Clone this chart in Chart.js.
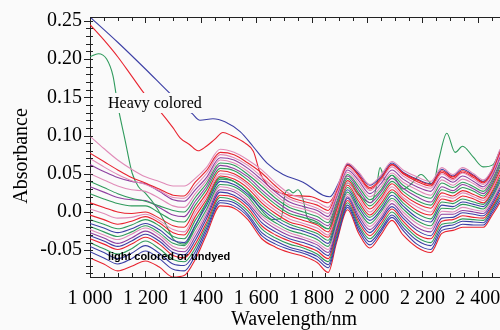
<!DOCTYPE html>
<html>
<head>
<meta charset="utf-8">
<script src="https://cdn.jsdelivr.net/npm/chart.js@4.4.1/dist/chart.umd.min.js"></script>
<style>
  html, body { margin: 0; padding: 0; background: #fafafa; }
  #wrap { width: 500px; height: 330px; }
</style>
</head>
<body>
<div id="wrap"><canvas id="c" width="500" height="330"></canvas></div>
<script>
// wavelengths (nm) shared by the bundle of spectra
const wavelengths = [1000, 1050, 1100, 1150, 1200, 1250, 1300, 1340, 1380, 1420, 1470, 1520, 1570, 1620, 1670, 1720, 1770, 1820, 1860, 1890, 1930, 1970, 2010, 2050, 2090, 2130, 2180, 2230, 2270, 2310, 2345, 2385, 2420, 2450, 2480]

// light colored / undyed samples (absorbance)
const s01 = [.099, .083, .068, .056, .046, .040, .034, .034, .044, .058, .082, .078, .068, .055, .038, .024, .018, .013, .006, .030, .064, .052, .036, .048, .066, .055, .046, .040, .058, .049, .058, .050, .042, .055, .082]
const s02 = [.077, .066, .055, .045, .038, .030, .022, .021, .039, .054, .078, .075, .064, .051, .034, .020, .014, .009, .002, .027, .061, .048, .032, .044, .062, .051, .042, .036, .054, .046, .054, .047, .039, .052, .079]
const s03 = [.070, .059, .049, .041, .036, .028, .019, .018, .034, .050, .075, .071, .061, .046, .030, .017, .011, .005, -.002, .023, .058, .044, .028, .041, .059, .047, .037, .031, .050, .042, .051, .043, .036, .049, .075]
const s04 = [.062, .053, .045, .040, .037, .027, .016, .014, .029, .045, .071, .068, .057, .042, .026, .013, .007, .002, -.006, .020, .055, .041, .024, .037, .055, .043, .033, .027, .046, .039, .047, .040, .033, .046, .072]
const s05 = [.050, .042, .034, .029, .027, .018, .008, .006, .024, .041, .068, .064, .053, .038, .022, .009, .004, -.002, -.010, .017, .052, .037, .020, .033, .051, .039, .029, .022, .042, .035, .043, .037, .030, .044, .069]
const s06 = [.040, .032, .024, .018, .014, .008, .002, .000, .019, .037, .064, .061, .049, .034, .018, .006, .000, -.006, -.014, .013, .049, .033, .016, .029, .048, .035, .024, .018, .038, .032, .039, .033, .027, .041, .065]
const s07 = [.033, .026, .019, .016, .015, .006, -.004, -.006, .014, .033, .061, .057, .046, .029, .014, .002, -.004, -.010, -.018, .010, .047, .029, .012, .026, .044, .031, .020, .013, .033, .028, .036, .030, .024, .038, .062]
const s08 = [.024, .017, .011, .008, .008, -.001, -.011, -.013, .009, .029, .057, .054, .042, .025, .010, -.002, -.007, -.013, -.022, .007, .044, .025, .008, .022, .040, .027, .015, .009, .029, .025, .032, .027, .021, .035, .059]
const s09 = [.012, .006, .000, -.002, .000, -.008, -.018, -.020, .004, .024, .054, .050, .038, .021, .006, -.005, -.011, -.017, -.026, .003, .041, .022, .004, .018, .037, .023, .011, .005, .025, .021, .028, .023, .018, .032, .055]
const s10 = [.004, -.002, -.008, -.007, -.003, -.011, -.023, -.026, -.001, .020, .050, .047, .035, .016, .002, -.009, -.015, -.021, -.030, .000, .038, .018, .000, .015, .033, .019, .007, .000, .021, .018, .025, .020, .015, .029, .052]
const s11 = [-.004, -.010, -.016, -.012, -.006, -.014, -.027, -.030, -.006, .016, .047, .043, .031, .012, -.002, -.013, -.018, -.025, -.033, -.003, .035, .014, -.004, .011, .029, .016, .002, -.004, .017, .014, .021, .017, .012, .026, .049]
const s12 = [-.010, -.016, -.022, -.017, -.010, -.018, -.032, -.035, -.011, .012, .043, .040, .027, .008, -.006, -.016, -.022, -.028, -.037, -.007, .032, .010, -.007, .007, .026, .012, -.002, -.009, .013, .011, .017, .013, .010, .024, .045]
const s13 = [-.015, -.021, -.027, -.022, -.015, -.023, -.037, -.040, -.017, .008, .040, .036, .023, .004, -.010, -.020, -.025, -.032, -.041, -.010, .029, .006, -.011, .003, .022, .008, -.007, -.013, .009, .007, .013, .010, .007, .021, .042]
const s14 = [-.019, -.026, -.032, -.026, -.018, -.027, -.041, -.044, -.022, .003, .036, .033, .020, -.002, -.014, -.024, -.029, -.036, -.045, -.013, .026, .002, -.015, .000, .018, .004, -.011, -.018, .005, .004, .010, .007, .004, .018, .039]
const s15 = [-.023, -.030, -.036, -.029, -.021, -.030, -.045, -.048, -.027, -.001, .033, .029, .016, -.005, -.018, -.027, -.033, -.040, -.049, -.017, .023, -.001, -.019, -.004, .015, .000, -.015, -.022, .001, .000, .006, .003, .001, .015, .035]
const s16 = [-.027, -.034, -.041, -.034, -.025, -.034, -.049, -.052, -.032, -.005, .029, .026, .012, -.009, -.022, -.031, -.036, -.043, -.053, -.020, .020, -.005, -.023, -.008, .011, -.004, -.020, -.026, -.003, -.003, .002, .000, -.002, .012, .032]
const s17 = [-.031, -.038, -.045, -.038, -.029, -.038, -.053, -.056, -.037, -.009, .026, .022, .009, -.014, -.026, -.035, -.040, -.047, -.057, -.023, .018, -.009, -.027, -.011, .007, -.008, -.024, -.031, -.008, -.007, -.001, -.003, -.005, .009, .029]
const s18 = [-.035, -.042, -.049, -.042, -.033, -.042, -.057, -.060, -.042, -.014, .022, .019, .005, -.018, -.030, -.038, -.044, -.051, -.061, -.027, .015, -.013, -.031, -.015, .004, -.012, -.029, -.035, -.012, -.010, -.005, -.007, -.008, .006, .025]
const s19 = [-.040, -.048, -.055, -.048, -.038, -.048, -.062, -.065, -.047, -.018, .019, .015, .001, -.022, -.034, -.042, -.047, -.055, -.065, -.030, .012, -.017, -.035, -.019, .000, -.016, -.033, -.040, -.016, -.014, -.009, -.010, -.011, .004, .022]
const s20 = [-.045, -.053, -.061, -.054, -.044, -.054, -.068, -.070, -.052, -.022, .015, .012, -.003, -.027, -.038, -.046, -.051, -.058, -.069, -.033, .009, -.020, -.039, -.023, -.004, -.020, -.037, -.044, -.020, -.017, -.012, -.013, -.014, .001, .019]
const s21 = [-.052, -.060, -.068, -.061, -.051, -.061, -.075, -.077, -.057, -.026, .012, .008, -.006, -.031, -.042, -.049, -.054, -.062, -.073, -.037, .006, -.024, -.043, -.026, -.007, -.024, -.042, -.049, -.024, -.021, -.016, -.017, -.017, -.002, .015]
const s22 = [-.060, -.068, -.077, -.071, -.064, -.072, -.085, -.083, -.062, -.030, .008, .005, -.010, -.035, -.046, -.053, -.058, -.066, -.079, -.040, .003, -.028, -.047, -.030, -.011, -.030, -.046, -.053, -.028, -.024, -.020, -.020, -.020, -.005, .012]

// heavy colored samples, each with its own wavelength points
const blueWl = [1000, 1100, 1200, 1300, 1368, 1397, 1444, 1487, 1542, 1588, 1639, 1697, 1769, 1841, 1866, 1900, 1930, 1970, 2010, 2050, 2090, 2130, 2180, 2230, 2270, 2310, 2345, 2385, 2420, 2450, 2480]
const blueHeavy = [.255, .222, .187, .151, .129, .120, .122, .118, .105, .086, .064, .049, .039, .022, .020, .040, .062, .050, .035, .046, .064, .052, .043, .037, .056, .047, .056, .048, .040, .054, .080]
const redWl = [1000, 1050, 1100, 1150, 1200, 1250, 1300, 1325, 1360, 1390, 1420, 1450, 1480, 1510, 1560, 1590, 1614, 1640, 1661, 1722, 1800, 1860, 1900, 1930, 1970, 2010, 2050, 2090, 2130, 2180, 2230, 2270, 2310, 2345, 2385, 2420, 2450, 2480]
const redHeavy = [.245, .225, .203, .178, .153, .133, .110, .097, .088, .080, .086, .095, .104, .100, .090, .079, .051, .036, .029, .022, .020, .012, .035, .063, .047, .030, .042, .062, .050, .040, .034, .052, .044, .052, .045, .038, .050, .078]
const greenWl = [1000, 1030, 1060, 1083, 1101, 1126, 1152, 1175, 1199, 1242, 1271, 1300, 1340, 1380, 1420, 1470, 1520, 1570, 1620, 1660, 1690, 1705, 1718, 1733, 1750, 1768, 1785, 1820, 1860, 1890, 1930, 1970, 2015, 2035, 2047, 2065, 2090, 2130, 2160, 2195, 2238, 2260, 2288, 2318, 2345, 2383, 2419, 2455, 2480]
const greenHeavy = [.203, .207, .200, .178, .138, .095, .051, .033, .025, .005, -.014, -.035, -.042, -.018, .012, .045, .040, .026, .002, -.010, -.008, .025, .029, .025, .029, .018, -.008, -.015, -.022, .003, .038, .022, .012, .035, .058, .042, .048, .030, .037, .049, .036, .070, .103, .078, .086, .072, .059, .062, .080]

// axis ticks
const xTicks = [1000, 1200, 1400, 1600, 1800, 2000, 2200, 2400]
const xTickLabels = ['1 000', '1 200', '1 400', '1 600', '1 800', '2 000', '2 200', '2 400']
const yTicks = [-0.05, 0, 0.05, 0.10, 0.15, 0.20, 0.25]
const yTickLabels = ['-0.05', '0.0', '0.05', '0.10', '0.15', '0.20', '0.25']

const RED = '#e8232f', BLUE = '#3c3fa5', GREEN = '#2f9a5c', PURPLE = '#8e3fa0', PINK = '#e08bb8'

const bundle = [
  [s01, PINK], [s02, RED], [s03, PINK], [s04, PURPLE], [s05, PINK], [s06, GREEN],
  [s07, PURPLE], [s08, GREEN], [s09, RED], [s10, PINK], [s11, RED], [s12, GREEN],
  [s13, BLUE], [s14, GREEN], [s15, PINK], [s16, PURPLE], [s17, BLUE], [s18, RED],
  [s19, GREEN], [s20, BLUE], [s21, BLUE], [s22, RED]
]

const line = (wl, vals, color) => ({
  data: wl.map((w, i) => ({ x: w, y: vals[i] })),
  borderColor: color,
  borderWidth: 1.1,
  pointRadius: 0,
  fill: false,
  cubicInterpolationMode: 'monotone'
})

const datasets = bundle.map(([vals, col]) => line(wavelengths, vals, col))
datasets.push(line(blueWl, blueHeavy, BLUE))
datasets.push(line(redWl, redHeavy, RED))
datasets.push(line(greenWl, greenHeavy, GREEN))

const serif = "'Liberation Serif', 'Times New Roman', serif"
const INK = '#000'

// background, top axis, minor ticks, labels
const frame = {
  id: 'frame',
  beforeDraw(chart) {
    const c = chart.ctx
    c.save()
    c.fillStyle = '#fafafa'
    c.fillRect(0, 0, chart.width, chart.height)
    c.restore()
  },
  afterDatasetsDraw(chart) {
    const { ctx, chartArea: a, scales: { x, y } } = chart
    ctx.save()
    ctx.strokeStyle = '#222'
    ctx.lineWidth = 1
    ctx.beginPath()
    ctx.moveTo(a.left, a.top + 0.5)
    ctx.lineTo(a.right, a.top + 0.5)
    ctx.stroke()

    ctx.beginPath()
    for (let v = 1000; v <= 2480; v += 50) {
      const px = Math.round(x.getPixelForValue(v)) + 0.5
      const len = v % 200 === 0 ? 6 : 4
      ctx.moveTo(px, a.bottom + 1)
      ctx.lineTo(px, a.bottom - len)
      ctx.moveTo(px, a.top)
      ctx.lineTo(px, a.top + len)
    }
    for (let i = -8; i <= 25; i++) {
      const py = Math.round(y.getPixelForValue(i / 100)) + 0.5
      const major = i % 5 === 0
      ctx.moveTo(a.left - (major ? 6 : 4), py)
      ctx.lineTo(a.left + 3, py)
    }
    ctx.stroke()

    // "Heavy colored" sits on a patch of plot background
    ctx.fillStyle = '#fafafa'
    ctx.fillRect(106, 93, 98, 20)
    ctx.fillStyle = INK
    ctx.font = '16px ' + serif
    ctx.textBaseline = 'middle'
    ctx.textAlign = 'left'
    ctx.fillText('Heavy colored', 108, 104)

    ctx.font = "bold 11px 'Liberation Sans', Arial, sans-serif"
    ctx.fillText('light colored or undyed', 108, 257)

    // axis titles
    ctx.font = '20px ' + serif
    ctx.textAlign = 'center'
    ctx.fillText('Wavelength/nm', 294, 320)
    ctx.translate(22, 156)
    ctx.rotate(-Math.PI / 2)
    ctx.fillText('Absorbance', 0, 0)
    ctx.restore()
  }
}

new Chart(document.getElementById('c'), {
  type: 'line',
  data: { datasets },
  plugins: [frame],
  options: {
    responsive: false,
    animation: false,
    devicePixelRatio: 1,
    layout: { padding: { top: 17, right: 0, left: 0, bottom: 0 } },
    plugins: { legend: { display: false }, tooltip: { enabled: false } },
    scales: {
      x: {
        type: 'linear',
        min: 1000,
        max: 2480,
        afterFit: s => { s.height = 53; s.paddingLeft = 0; s.paddingRight = 0 },
        afterBuildTicks: s => { s.ticks = xTicks.map(v => ({ value: v })) },
        ticks: {
          callback: (v, i) => xTickLabels[i],
          font: { family: serif, size: 20 },
          color: INK,
          padding: 10,
          maxRotation: 0,
          autoSkip: false
        },
        grid: { display: false, drawTicks: false },
        border: { display: true, color: '#222', width: 1 }
      },
      y: {
        min: -0.085,
        max: 0.255,
        afterFit: s => { s.width = 90; s.paddingTop = 0; s.paddingBottom = 0 },
        afterBuildTicks: s => { s.ticks = yTicks.map(v => ({ value: v })) },
        ticks: {
          callback: (v, i) => yTickLabels[i],
          font: { family: serif, size: 20 },
          color: INK,
          padding: 8
        },
        grid: { display: false, drawTicks: false },
        border: { display: true, color: '#222', width: 1 }
      }
    }
  }
})
</script>
</body>
</html>
